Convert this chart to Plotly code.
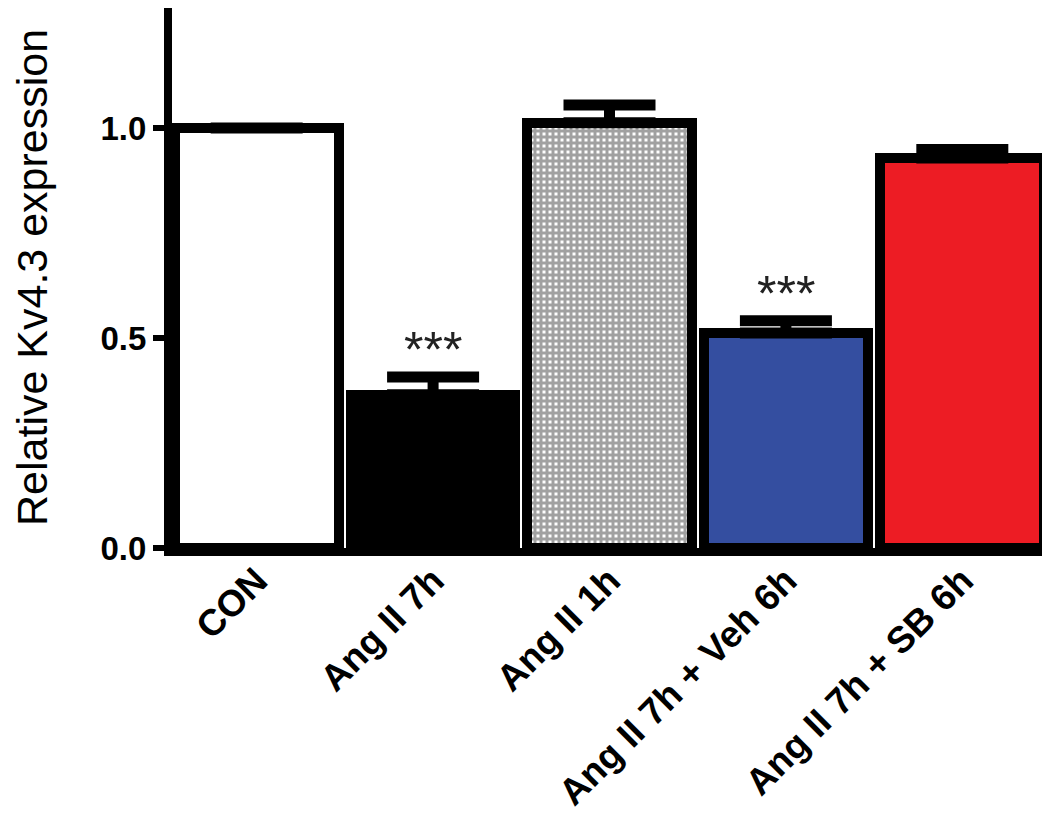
import plotly.graph_objects as go

# Data
categories = ["CON", "Ang II 7h", "Ang II 1h", "Ang II 7h + Veh 6h", "Ang II 7h + SB 6h"]
values = [1.0, 0.365, 1.013, 0.512, 0.929]
errors = [0, 0.042, 0.042, 0.029, 0.02]
bar_colors = ["white", "black", "white", "rgb(52,78,160)", "rgb(237,28,36)"]
pattern_shapes = ["", "", "+", "", ""]
stars = ["", "***", "", "***", ""]

fig = go.Figure()
fig.add_trace(go.Bar(
    x=categories, y=values,
    width=0.93,
    marker=dict(
        color=bar_colors,
        line=dict(color="black", width=10),
        pattern=dict(shape=pattern_shapes, fgcolor="black", bgcolor="white",
                     size=6, solidity=0.75, fillmode="overlay"),
    ),
    error_y=dict(type="data", symmetric=False, array=errors,
                 arrayminus=[0] * len(errors),
                 color="black", thickness=11, width=46),
    showlegend=False,
))

# significance stars above the error bars
for cat, v, e, s in zip(categories, values, errors, stars):
    if s:
        fig.add_annotation(x=cat, y=v + e, text=s, showarrow=False,
                           yanchor="bottom", yshift=-3,
                           font=dict(family="Liberation Sans", size=50, color="#222222"))

# y title as a rotated annotation so it can sit near the left edge
fig.add_annotation(text="Relative Kv4.3 expression", textangle=-90,
                   xref="paper", yref="paper", x=-166 / 875, y=0.5,
                   xanchor="left", yanchor="middle", showarrow=False,
                   font=dict(family="Liberation Sans", size=43, color="black"))

# page body adds 8px around the figure, margins below allow for it
fig.update_layout(
    width=1050, height=823,
    margin=dict(l=164, r=11, t=0, b=283),
    plot_bgcolor="white", paper_bgcolor="white",
    font=dict(family="Liberation Sans", color="black"),
    bargap=0,
    xaxis=dict(range=[-0.48, 4.48], showline=True, linecolor="black", linewidth=8,
               ticks="", tickangle=-45, showgrid=False, zeroline=False, automargin=False,
               ticklabelstandoff=-12,
               tickfont=dict(size=37, weight="bold")),
    yaxis=dict(range=[0, 1.286], showline=True, linecolor="black", linewidth=8,
               ticks="outside", ticklen=11, tickwidth=6, tickcolor="black",
               tickvals=[0, 0.5, 1.0], ticktext=["0.0", "0.5", "1.0"],
               tickfont=dict(size=33, weight="bold"), automargin=False,
               showgrid=False, zeroline=False),
)

fig.write_html("out.html")
